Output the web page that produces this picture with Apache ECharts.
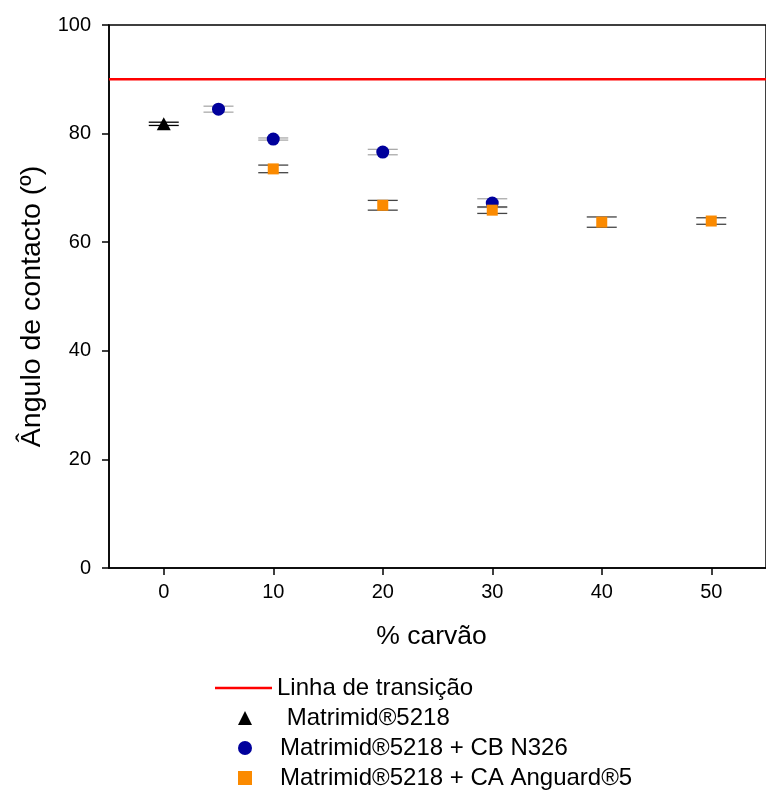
<!DOCTYPE html>
<html>
<head>
<meta charset="utf-8">
<script src="https://cdn.jsdelivr.net/npm/echarts@6/dist/echarts.min.js"></script>
<style>
    html, body {margin: 0; padding: 0; background: #fff;}
    #chart {width: 766px; height: 792px;}
</style>
</head>
<body>
<div id="chart"></div>
<script>
var xTicks = [0, 10, 20, 30, 40, 50];

var transitionX = [-5, 55];
var transitionY = [90, 90];

var xMatrimid = [0];
var yMatrimid = [81.8];
var errMatrimid = [0.3];

var xCB = [5, 10, 20, 30];
var yCB = [84.5, 79.0, 76.6, 67.2];
var errCB = [0.55, 0.2, 0.5, 0.8];

var xCA = [10, 20, 30, 40, 50];
var yCA = [73.5, 66.8, 65.9, 63.7, 63.9];
var errCA = [0.7, 0.9, 0.6, 0.95, 0.6];

var FONT = 'Liberation Sans, Arial, sans-serif';

function pairs(xs, ys) {
    return xs.map(function (x, i) { return [x, ys[i]]; });
}
function errRows(xs, ys, es) {
    return xs.map(function (x, i) { return [x, ys[i] - es[i], ys[i] + es[i]]; });
}

// error bars: two caps and a stem
function errorSeries(name, rows, color) {
    return {
        name: name + ' err',
        type: 'custom',
        z: 1,
        silent: true,
        data: rows,
        renderItem: function (params, api) {
            var lo = api.coord([api.value(0), api.value(1)]);
            var hi = api.coord([api.value(0), api.value(2)]);
            var hw = 15;
            var style = {stroke: color, lineWidth: 1.3};
            return {
                type: 'group',
                children: [
                    {type: 'line', shape: {x1: lo[0] - hw, y1: lo[1], x2: lo[0] + hw, y2: lo[1]}, style: style},
                    {type: 'line', shape: {x1: hi[0] - hw, y1: hi[1], x2: hi[0] + hw, y2: hi[1]}, style: style},
                    {type: 'line', shape: {x1: lo[0], y1: lo[1], x2: hi[0], y2: hi[1]}, style: style}
                ]
            };
        }
    };
}

var chart = echarts.init(document.getElementById('chart'));

var legendText = {fontSize: 24, color: '#000', fontFamily: FONT, lineHeight: 24};

var option = {
    backgroundColor: '#fff',
    animation: false,
    textStyle: {fontFamily: FONT},
    grid: {
        left: 109,
        top: 25,
        width: 667,
        height: 543,
        show: true,
        borderColor: '#000',
        borderWidth: 1.5
    },
    legend: [{
        orient: 'vertical',
        left: 215,
        top: 676,
        padding: 0,
        itemWidth: 57,
        itemHeight: 2.5,
        textStyle: legendText,
        data: [{name: 'Linha de transição', icon: 'rect'}]
    }, {
        orient: 'vertical',
        left: 238,
        top: 706,
        padding: 0,
        itemWidth: 14,
        itemHeight: 14,
        itemGap: 6,
        textStyle: Object.assign({padding: [0, 0, 0, 23]}, legendText),
        data: [
            {name: ' Matrimid®5218', icon: 'triangle'},
            {name: 'Matrimid®5218 + CB N326', icon: 'circle'},
            {name: 'Matrimid®5218 + CA Anguard®5', icon: 'rect'}
        ]
    }],
    xAxis: {
        type: 'value',
        min: -5,
        max: 55,
        name: '% carvão',
        nameLocation: 'middle',
        nameGap: 55,
        nameTextStyle: {fontSize: 26.5, color: '#000', padding: [0, 12, 0, 0]},
        splitLine: {show: false},
        axisLine: {show: true, onZero: false, lineStyle: {color: '#000', width: 1.5}},
        axisTick: {show: true, length: 7, customValues: xTicks, lineStyle: {color: '#000', width: 1.5}},
        axisLabel: {fontSize: 20, color: '#000', margin: 14, customValues: xTicks}
    },
    yAxis: {
        type: 'value',
        min: 0,
        max: 100,
        interval: 20,
        name: 'Ângulo de contacto (º)',
        nameLocation: 'middle',
        nameGap: 58,
        nameTextStyle: {fontSize: 28.5, color: '#000', padding: [0, 20, 0, 0]},
        splitLine: {show: false},
        axisLine: {show: true, onZero: false, lineStyle: {color: '#000', width: 1.5}},
        axisTick: {show: true, length: 7, lineStyle: {color: '#000', width: 1.5}},
        axisLabel: {fontSize: 20, color: '#000', margin: 18}
    },
    series: [
        {
            name: 'Linha de transição',
            type: 'line',
            symbol: 'none',
            z: 2,
            data: pairs(transitionX, transitionY),
            lineStyle: {color: '#ff0000', width: 2.5},
            itemStyle: {color: '#ff0000'}
        },
        errorSeries('m', errRows(xMatrimid, yMatrimid, errMatrimid), '#000'),
        errorSeries('cb', errRows(xCB, yCB, errCB), '#aaaaaa'),
        errorSeries('ca', errRows(xCA, yCA, errCA), '#444444'),
        {
            name: ' Matrimid®5218',
            type: 'scatter',
            symbol: 'triangle',
            symbolSize: [14, 13],
            z: 3,
            data: pairs(xMatrimid, yMatrimid),
            itemStyle: {color: '#000', opacity: 1}
        },
        {
            name: 'Matrimid®5218 + CB N326',
            type: 'scatter',
            symbol: 'circle',
            symbolSize: 13,
            z: 3,
            data: pairs(xCB, yCB),
            itemStyle: {color: '#00009c', opacity: 1}
        },
        {
            name: 'Matrimid®5218 + CA Anguard®5',
            type: 'scatter',
            symbol: 'rect',
            symbolSize: 11,
            z: 3,
            data: pairs(xCA, yCA),
            itemStyle: {color: '#fb8a00', opacity: 1}
        }
    ]
};

chart.setOption(option);
</script>
</body>
</html>
